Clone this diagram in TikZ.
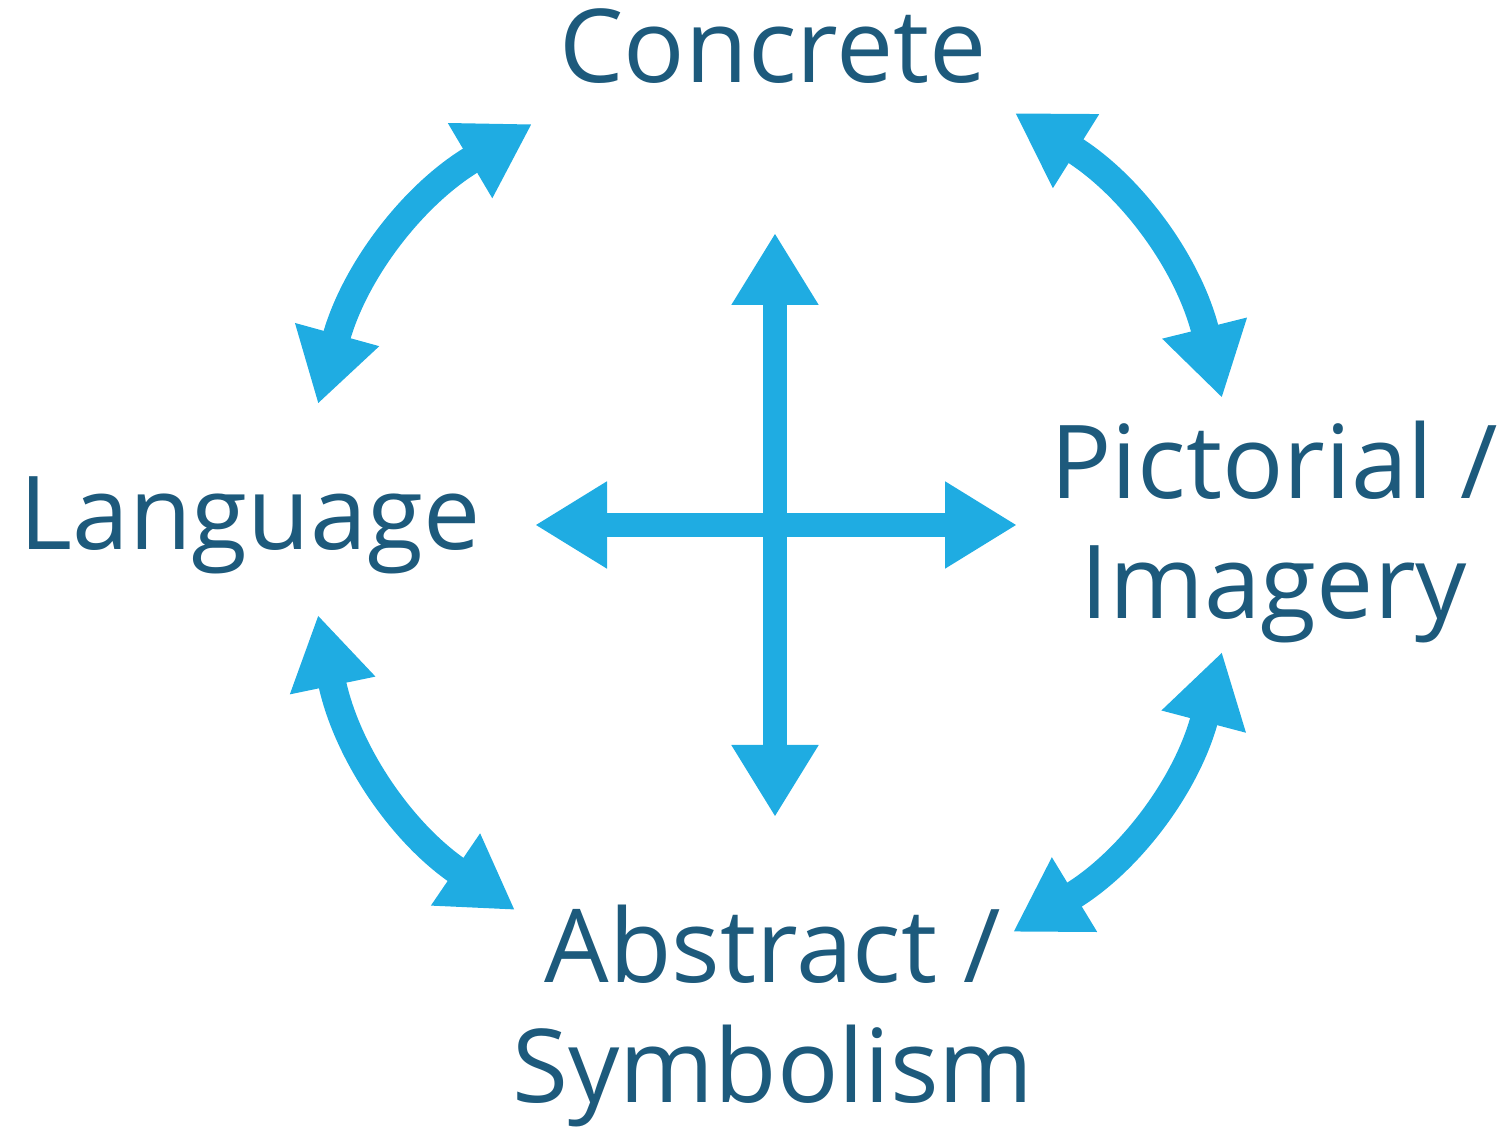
\documentclass[tikz,border=0pt]{standalone}
\usepackage{fontspec}
\setmainfont{Open Sans}
\usetikzlibrary{arrows.meta}
\definecolor{labelblue}{HTML}{1D5A7C}
\definecolor{arrowblue}{HTML}{1FACE2}
\begin{document}
\begin{tikzpicture}[x=0.5pt,y=0.5pt,
  term/.style={text=labelblue, font=\fontsize{51}{60}\selectfont, anchor=base, inner sep=0pt, align=center},
  link/.style={draw=arrowblue, line width=12pt, {Triangle[width=41pt,length=36pt]}-{Triangle[width=41pt,length=36pt]}},
  cycle link/.style={link, line width=14pt},
]
\useasboundingbox (0,0) rectangle (1499,1128);

% labels (base anchor sits on the last line)
\node[term] (concrete) at (773,1045) {Concrete};
\node[term] (language) at (250,578) {Language};
\node[term] (pictorial) at (1274,509) {Pictorial /\\Imagery};
\node[term] (abstract) at (773,25) {Abstract /\\Symbolism};

% arrow end points
\coordinate (up) at (775,895);
\coordinate (down) at (775,311);
\coordinate (left) at (535,603);
\coordinate (right) at (1017,603);

\coordinate (tlA) at (318,724);
\coordinate (tlB) at (532,1004);
\coordinate (trA) at (1015,1015);
\coordinate (trB) at (1222,730);
\coordinate (brA) at (1222,476);
\coordinate (brB) at (1013,196);
\coordinate (blA) at (515,218);
\coordinate (blB) at (318,513);

% central cross
\draw[link] (down) -- (up);
\draw[link] (left) -- (right);

% curved links round the cycle
\draw[cycle link] (tlA) to[bend left=22] (tlB);
\draw[cycle link] (trA) to[bend left=22] (trB);
\draw[cycle link] (brA) to[bend left=22] (brB);
\draw[cycle link] (blA) to[bend left=22] (blB);
\end{tikzpicture}
\end{document}
